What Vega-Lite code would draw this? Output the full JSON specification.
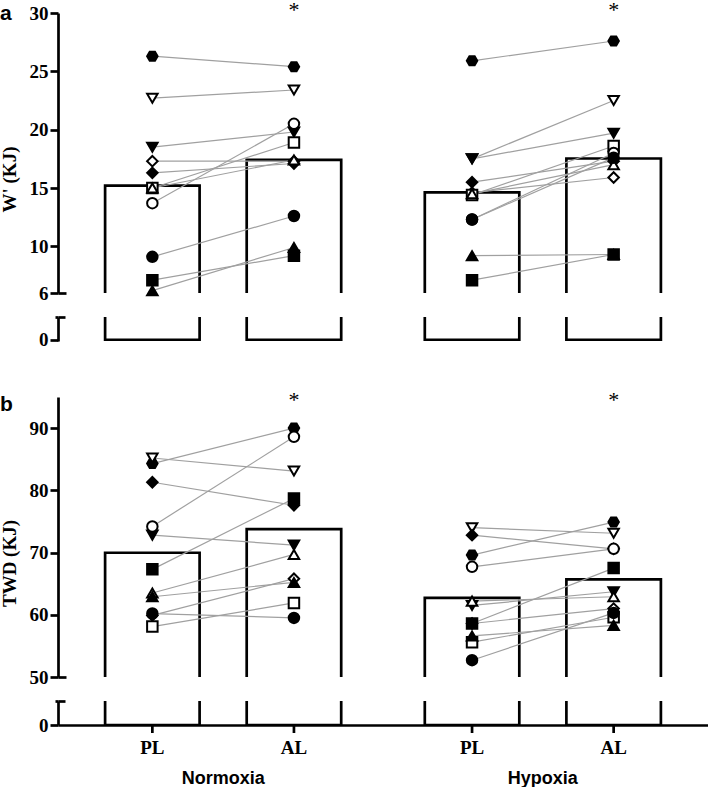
{
  "$schema": "https://vega.github.io/schema/vega-lite/v6.json",
  "padding": {"left": 0, "top": -2, "right": 0, "bottom": 0},
  "background": "white",
  "config": {
    "view": {"stroke": null},
    "axis": {
      "domainColor": "black", "domainWidth": 2.7, "tickColor": "black", "tickWidth": 2.7, "tickSize": 8,
      "labelFont": "Liberation Serif", "labelFontWeight": "bold", "labelFontSize": 19, "labelColor": "black", "labelPadding": 2,
      "titleFont": "Liberation Serif", "titleFontWeight": "bold", "titleFontSize": 19, "titleColor": "black", "titlePadding": 10
    }
  },
  "datasets": {
    "pts": [
      {"p": "a", "c": "Normoxia", "t": "PL", "s": "S1", "v": 26.3},
      {"p": "a", "c": "Normoxia", "t": "PL", "s": "S2", "v": 22.7},
      {"p": "a", "c": "Normoxia", "t": "PL", "s": "S3", "v": 18.5},
      {"p": "a", "c": "Normoxia", "t": "PL", "s": "S4", "v": 17.3},
      {"p": "a", "c": "Normoxia", "t": "PL", "s": "S5", "v": 16.3},
      {"p": "a", "c": "Normoxia", "t": "PL", "s": "S6", "v": 15.0},
      {"p": "a", "c": "Normoxia", "t": "PL", "s": "S7", "v": 15.0},
      {"p": "a", "c": "Normoxia", "t": "PL", "s": "S8", "v": 13.7},
      {"p": "a", "c": "Normoxia", "t": "PL", "s": "S9", "v": 9.1},
      {"p": "a", "c": "Normoxia", "t": "PL", "s": "S10", "v": 7.1},
      {"p": "a", "c": "Normoxia", "t": "PL", "s": "S11", "v": 6.2},
      {"p": "a", "c": "Normoxia", "t": "AL", "s": "S1", "v": 25.4},
      {"p": "a", "c": "Normoxia", "t": "AL", "s": "S2", "v": 23.4},
      {"p": "a", "c": "Normoxia", "t": "AL", "s": "S3", "v": 19.8},
      {"p": "a", "c": "Normoxia", "t": "AL", "s": "S4", "v": 17.3},
      {"p": "a", "c": "Normoxia", "t": "AL", "s": "S5", "v": 17.1},
      {"p": "a", "c": "Normoxia", "t": "AL", "s": "S6", "v": 18.9},
      {"p": "a", "c": "Normoxia", "t": "AL", "s": "S7", "v": 17.4},
      {"p": "a", "c": "Normoxia", "t": "AL", "s": "S8", "v": 20.5},
      {"p": "a", "c": "Normoxia", "t": "AL", "s": "S9", "v": 12.6},
      {"p": "a", "c": "Normoxia", "t": "AL", "s": "S10", "v": 9.2},
      {"p": "a", "c": "Normoxia", "t": "AL", "s": "S11", "v": 9.9},
      {"p": "a", "c": "Hypoxia", "t": "PL", "s": "S1", "v": 25.9},
      {"p": "a", "c": "Hypoxia", "t": "PL", "s": "S2", "v": 17.5},
      {"p": "a", "c": "Hypoxia", "t": "PL", "s": "S3", "v": 17.5},
      {"p": "a", "c": "Hypoxia", "t": "PL", "s": "S4", "v": 14.6},
      {"p": "a", "c": "Hypoxia", "t": "PL", "s": "S5", "v": 15.5},
      {"p": "a", "c": "Hypoxia", "t": "PL", "s": "S6", "v": 14.4},
      {"p": "a", "c": "Hypoxia", "t": "PL", "s": "S7", "v": 14.5},
      {"p": "a", "c": "Hypoxia", "t": "PL", "s": "S8", "v": 12.3},
      {"p": "a", "c": "Hypoxia", "t": "PL", "s": "S9", "v": 12.3},
      {"p": "a", "c": "Hypoxia", "t": "PL", "s": "S10", "v": 7.1},
      {"p": "a", "c": "Hypoxia", "t": "PL", "s": "S11", "v": 9.2},
      {"p": "a", "c": "Hypoxia", "t": "AL", "s": "S1", "v": 27.6},
      {"p": "a", "c": "Hypoxia", "t": "AL", "s": "S2", "v": 22.5},
      {"p": "a", "c": "Hypoxia", "t": "AL", "s": "S3", "v": 19.7},
      {"p": "a", "c": "Hypoxia", "t": "AL", "s": "S4", "v": 15.9},
      {"p": "a", "c": "Hypoxia", "t": "AL", "s": "S5", "v": 17.3},
      {"p": "a", "c": "Hypoxia", "t": "AL", "s": "S6", "v": 18.6},
      {"p": "a", "c": "Hypoxia", "t": "AL", "s": "S7", "v": 17.0},
      {"p": "a", "c": "Hypoxia", "t": "AL", "s": "S8", "v": 18.0},
      {"p": "a", "c": "Hypoxia", "t": "AL", "s": "S9", "v": 17.6},
      {"p": "a", "c": "Hypoxia", "t": "AL", "s": "S10", "v": 9.3},
      {"p": "a", "c": "Hypoxia", "t": "AL", "s": "S11", "v": 9.3},
      {"p": "b", "c": "Normoxia", "t": "PL", "s": "S1", "v": 84.3},
      {"p": "b", "c": "Normoxia", "t": "PL", "s": "S2", "v": 85.2},
      {"p": "b", "c": "Normoxia", "t": "PL", "s": "S3", "v": 72.8},
      {"p": "b", "c": "Normoxia", "t": "PL", "s": "S4", "v": 59.9},
      {"p": "b", "c": "Normoxia", "t": "PL", "s": "S5", "v": 81.3},
      {"p": "b", "c": "Normoxia", "t": "PL", "s": "S6", "v": 58.1},
      {"p": "b", "c": "Normoxia", "t": "PL", "s": "S7", "v": 63.5},
      {"p": "b", "c": "Normoxia", "t": "PL", "s": "S8", "v": 74.2},
      {"p": "b", "c": "Normoxia", "t": "PL", "s": "S9", "v": 60.2},
      {"p": "b", "c": "Normoxia", "t": "PL", "s": "S10", "v": 67.3},
      {"p": "b", "c": "Normoxia", "t": "PL", "s": "S11", "v": 62.9},
      {"p": "b", "c": "Normoxia", "t": "AL", "s": "S1", "v": 90.0},
      {"p": "b", "c": "Normoxia", "t": "AL", "s": "S2", "v": 83.1},
      {"p": "b", "c": "Normoxia", "t": "AL", "s": "S3", "v": 71.2},
      {"p": "b", "c": "Normoxia", "t": "AL", "s": "S4", "v": 65.8},
      {"p": "b", "c": "Normoxia", "t": "AL", "s": "S5", "v": 77.6},
      {"p": "b", "c": "Normoxia", "t": "AL", "s": "S6", "v": 61.9},
      {"p": "b", "c": "Normoxia", "t": "AL", "s": "S7", "v": 69.7},
      {"p": "b", "c": "Normoxia", "t": "AL", "s": "S8", "v": 88.6},
      {"p": "b", "c": "Normoxia", "t": "AL", "s": "S9", "v": 59.5},
      {"p": "b", "c": "Normoxia", "t": "AL", "s": "S10", "v": 78.7},
      {"p": "b", "c": "Normoxia", "t": "AL", "s": "S11", "v": 65.2},
      {"p": "b", "c": "Hypoxia", "t": "PL", "s": "S1", "v": 69.6},
      {"p": "b", "c": "Hypoxia", "t": "PL", "s": "S2", "v": 74.0},
      {"p": "b", "c": "Hypoxia", "t": "PL", "s": "S3", "v": 61.5},
      {"p": "b", "c": "Hypoxia", "t": "PL", "s": "S4", "v": 58.6},
      {"p": "b", "c": "Hypoxia", "t": "PL", "s": "S5", "v": 72.8},
      {"p": "b", "c": "Hypoxia", "t": "PL", "s": "S6", "v": 55.6},
      {"p": "b", "c": "Hypoxia", "t": "PL", "s": "S7", "v": 62.2},
      {"p": "b", "c": "Hypoxia", "t": "PL", "s": "S8", "v": 67.7},
      {"p": "b", "c": "Hypoxia", "t": "PL", "s": "S9", "v": 52.7},
      {"p": "b", "c": "Hypoxia", "t": "PL", "s": "S10", "v": 58.6},
      {"p": "b", "c": "Hypoxia", "t": "PL", "s": "S11", "v": 56.6},
      {"p": "b", "c": "Hypoxia", "t": "AL", "s": "S1", "v": 74.9},
      {"p": "b", "c": "Hypoxia", "t": "AL", "s": "S2", "v": 73.1},
      {"p": "b", "c": "Hypoxia", "t": "AL", "s": "S3", "v": 63.7},
      {"p": "b", "c": "Hypoxia", "t": "AL", "s": "S4", "v": 61.0},
      {"p": "b", "c": "Hypoxia", "t": "AL", "s": "S5", "v": 70.6},
      {"p": "b", "c": "Hypoxia", "t": "AL", "s": "S6", "v": 59.6},
      {"p": "b", "c": "Hypoxia", "t": "AL", "s": "S7", "v": 62.9},
      {"p": "b", "c": "Hypoxia", "t": "AL", "s": "S8", "v": 70.6},
      {"p": "b", "c": "Hypoxia", "t": "AL", "s": "S9", "v": 60.3},
      {"p": "b", "c": "Hypoxia", "t": "AL", "s": "S10", "v": 67.5},
      {"p": "b", "c": "Hypoxia", "t": "AL", "s": "S11", "v": 58.3}
    ]
  },
  "bounds": "flush",
  "spacing": 24,
  "vconcat": [
    {
      "width": 650, "height": 280,
      "title": {"text": "a", "anchor": "start", "frame": "bounds", "font": "Liberation Sans", "fontSize": 21, "fontWeight": "bold", "color": "black", "offset": -42, "baseline": "alphabetic"},
      "encoding": {
        "x": {"field": "c", "type": "nominal", "sort": ["Normoxia", "Hypoxia"], "scale": {"paddingInner": 0, "paddingOuter": 0.0166}, "axis": null},
        "xOffset": {"field": "t", "type": "nominal", "sort": ["PL", "AL"], "scale": {"paddingInner": 0.3326, "paddingOuter": 0.2952}},
        "y": {"field": "v", "type": "quantitative", "scale": {"domain": [6, 30], "nice": false, "zero": false},
          "axis": {"values": [6, 10, 15, 20, 25, 30], "title": "W' (KJ)", "titleY": 166, "grid": true, "gridColor": "black", "gridWidth": 2.7, "gridDash": [8, 2000], "gridOpacity": {"condition": {"test": "datum.value == 6", "value": 1}, "value": 0}}}
      },
      "layer": [
        {"data": {"name": "pts"}, "transform": [{"filter": "datum.p == 'a'"}, {"aggregate": [{"op": "mean", "field": "v", "as": "v"}], "groupby": ["c", "t"]}],
          "mark": {"type": "bar", "filled": false, "color": "black", "strokeWidth": 2.7, "clip": true}, "encoding": {"y2": {"datum": 0}}},
        {"data": {"name": "pts"}, "transform": [{"filter": "datum.p == 'a'"}],
          "mark": {"type": "line", "color": "#a0a0a0", "strokeWidth": 1.2}, "encoding": {"detail": [{"field": "s"}, {"field": "c"}]}},
        {"data": {"name": "pts"}, "transform": [{"filter": "datum.p == 'a'"}],
          "mark": {"type": "point", "filled": true, "stroke": "black", "strokeWidth": 2, "size": 110, "opacity": 1},
          "encoding": {
            "shape": {"field": "s", "scale": {"domain": ["S1","S2","S3","S4","S5","S6","S7","S8","S9","S10","S11"], "range": ["M-1,0L-0.5,-0.866L0.5,-0.866L1,0L0.5,0.866L-0.5,0.866Z","triangle-down","triangle-down","diamond","diamond","square","triangle-up","circle","circle","square","triangle-up"]}, "legend": null},
            "fill": {"field": "s", "scale": {"domain": ["S1","S2","S3","S4","S5","S6","S7","S8","S9","S10","S11"], "range": ["black","white","black","white","black","white","white","white","black","black","black"]}, "legend": null}
          }},
        {"data": {"name": "pts"}, "transform": [{"filter": "datum.p == 'a' && datum.t == 'AL'"}, {"aggregate": [{"op": "mean", "field": "v", "as": "v"}], "groupby": ["c", "t"]}],
          "mark": {"type": "text", "font": "Liberation Serif", "fontSize": 22, "baseline": "alphabetic", "color": "black"},
          "encoding": {"y": {"datum": 29.7}, "text": {"value": "*"}}}
      ]
    },
    {
      "width": 650, "height": 24,
      "data": {"name": "pts"},
      "transform": [{"filter": "datum.p == 'a'"}, {"aggregate": [{"op": "mean", "field": "v", "as": "v"}], "groupby": ["c", "t"]}],
      "mark": {"type": "bar", "filled": false, "color": "black", "strokeWidth": 2.7, "clip": true},
      "encoding": {
        "x": {"field": "c", "type": "nominal", "sort": ["Normoxia", "Hypoxia"], "scale": {"paddingInner": 0, "paddingOuter": 0.0166}, "axis": null},
        "xOffset": {"field": "t", "type": "nominal", "sort": ["PL", "AL"], "scale": {"paddingInner": 0.3326, "paddingOuter": 0.2952}},
        "y": {"field": "v", "type": "quantitative", "scale": {"domain": [-0.1, 2], "nice": false, "zero": false},
          "axis": {"values": [0, 2], "labelExpr": "datum.value == 0 ? '0' : ''", "title": null, "tickSize": {"condition": {"test": "datum.value == 0", "value": 8}, "value": 3}, "grid": true, "gridColor": "black", "gridWidth": 2.7, "gridDash": [7, 2000], "gridOpacity": {"condition": {"test": "datum.value == 2", "value": 1}, "value": 0}}},
        "y2": {"datum": 0}
      }
    },
    {
      "width": 650, "height": 8,
      "data": {"values": []},
      "mark": "point",
      "encoding": {}
    },
    {
      "width": 650, "height": 280,
      "title": {"text": "b", "anchor": "start", "frame": "bounds", "font": "Liberation Sans", "fontSize": 21, "fontWeight": "bold", "color": "black", "offset": -43, "baseline": "alphabetic"},
      "encoding": {
        "x": {"field": "c", "type": "nominal", "sort": ["Normoxia", "Hypoxia"], "scale": {"paddingInner": 0, "paddingOuter": 0.0166}, "axis": null},
        "xOffset": {"field": "t", "type": "nominal", "sort": ["PL", "AL"], "scale": {"paddingInner": 0.3326, "paddingOuter": 0.2952}},
        "y": {"field": "v", "type": "quantitative", "scale": {"domain": [50, 95], "nice": false, "zero": false},
          "axis": {"values": [50, 60, 70, 80, 90], "title": "TWD (KJ)", "titleY": 166, "grid": true, "gridColor": "black", "gridWidth": 2.7, "gridDash": [8, 2000], "gridOpacity": {"condition": {"test": "datum.value == 50", "value": 1}, "value": 0}}}
      },
      "layer": [
        {"data": {"name": "pts"}, "transform": [{"filter": "datum.p == 'b'"}, {"aggregate": [{"op": "mean", "field": "v", "as": "v"}], "groupby": ["c", "t"]}],
          "mark": {"type": "bar", "filled": false, "color": "black", "strokeWidth": 2.7, "clip": true}, "encoding": {"y2": {"datum": 0}}},
        {"data": {"name": "pts"}, "transform": [{"filter": "datum.p == 'b'"}],
          "mark": {"type": "line", "color": "#a0a0a0", "strokeWidth": 1.2}, "encoding": {"detail": [{"field": "s"}, {"field": "c"}]}},
        {"data": {"name": "pts"}, "transform": [{"filter": "datum.p == 'b'"}],
          "mark": {"type": "point", "filled": true, "stroke": "black", "strokeWidth": 2, "size": 110, "opacity": 1},
          "encoding": {
            "shape": {"field": "s", "scale": {"domain": ["S1","S2","S3","S4","S5","S6","S7","S8","S9","S10","S11"], "range": ["M-1,0L-0.5,-0.866L0.5,-0.866L1,0L0.5,0.866L-0.5,0.866Z","triangle-down","triangle-down","diamond","diamond","square","triangle-up","circle","circle","square","triangle-up"]}, "legend": null},
            "fill": {"field": "s", "scale": {"domain": ["S1","S2","S3","S4","S5","S6","S7","S8","S9","S10","S11"], "range": ["black","white","black","white","black","white","white","white","black","black","black"]}, "legend": null}
          }},
        {"data": {"name": "pts"}, "transform": [{"filter": "datum.p == 'b' && datum.t == 'AL'"}, {"aggregate": [{"op": "mean", "field": "v", "as": "v"}], "groupby": ["c", "t"]}],
          "mark": {"type": "text", "font": "Liberation Serif", "fontSize": 22, "baseline": "alphabetic", "color": "black"},
          "encoding": {"y": {"datum": 93.4}, "text": {"value": "*"}}}
      ]
    },
    {
      "width": 650, "height": 24,
      "encoding": {
        "x": {"field": "c", "type": "nominal", "sort": ["Normoxia", "Hypoxia"], "scale": {"paddingInner": 0, "paddingOuter": 0.0166},
          "axis": {"title": null, "ticks": false, "labelAngle": 0, "labelFont": "Liberation Sans", "labelFontSize": 18, "labelFontWeight": "bold", "labelPadding": 44, "labelExpr": "datum.label == 'Normoxia' ? 'Normoxia\u00a0\u00a0\u00a0' : datum.label"}},
        "xOffset": {"field": "t", "type": "nominal", "sort": ["PL", "AL"], "scale": {"paddingInner": 0.3326, "paddingOuter": 0.2952}},
        "y": {"field": "v", "type": "quantitative", "scale": {"domain": [0, 2], "nice": false, "zero": false},
          "axis": {"values": [0, 2], "labelExpr": "datum.value == 0 ? '0' : ''", "title": null, "tickSize": {"condition": {"test": "datum.value == 0", "value": 8}, "value": 3}, "grid": true, "gridColor": "black", "gridWidth": 2.7, "gridDash": [7, 2000], "gridOpacity": {"condition": {"test": "datum.value == 2", "value": 1}, "value": 0}}}
      },
      "layer": [
        {"data": {"name": "pts"}, "transform": [{"filter": "datum.p == 'b'"}, {"aggregate": [{"op": "mean", "field": "v", "as": "v"}], "groupby": ["c", "t"]}],
          "mark": {"type": "bar", "filled": false, "color": "black", "strokeWidth": 2.7, "clip": true}, "encoding": {"y2": {"datum": 0}}},
        {"data": {"name": "pts"}, "transform": [{"filter": "datum.p == 'b'"}, {"aggregate": [{"op": "mean", "field": "v", "as": "v"}], "groupby": ["c", "t"]}],
          "mark": {"type": "rule", "color": "black", "strokeWidth": 2.7}, "encoding": {"y": {"datum": 0}, "y2": {"datum": -0.667}}},
        {"data": {"name": "pts"}, "transform": [{"filter": "datum.p == 'b'"}, {"aggregate": [{"op": "mean", "field": "v", "as": "v"}], "groupby": ["c", "t"]}],
          "mark": {"type": "text", "font": "Liberation Serif", "fontSize": 19, "fontWeight": "bold", "baseline": "top", "color": "black"}, "encoding": {"y": {"datum": -1.17}, "text": {"field": "t"}}}
      ]
    }
  ]
}
